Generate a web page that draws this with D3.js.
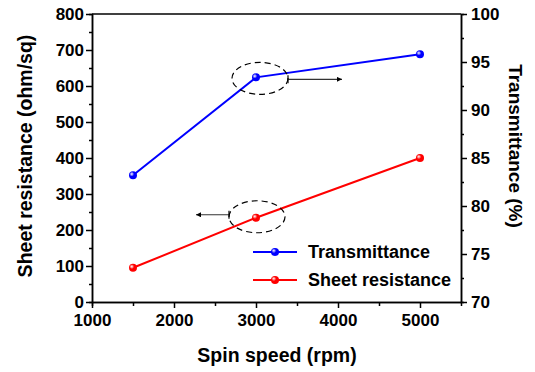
<!DOCTYPE html>
<html>
<head>
<meta charset="utf-8">
<script src="https://cdn.jsdelivr.net/npm/d3@7"></script>
<style>
  body { margin: 0; background: #fff; }
  text { font-family: "Liberation Sans", Arial, sans-serif; font-weight: bold; fill: #000; }
</style>
</head>
<body>
<div id="vis"></div>
<script>
const width = 535;
const height = 372;

// data
const speed = [1500, 3000, 5000];
const transmittance = [83.2, 93.4, 95.8];
const sheetRes = [95, 234, 400];
const xTicks = [1000, 2000, 3000, 4000, 5000];
const leftTicks = [0, 100, 200, 300, 400, 500, 600, 700, 800];
const rightTicks = [70, 75, 80, 85, 90, 95, 100];

const m = { left: 92, right: 461, top: 14, bottom: 302 };

const svg = d3.select("#vis").append("svg")
  .attr("width", width)
  .attr("height", height);

const x = d3.scaleLinear().domain([1000, 5500]).range([m.left, m.right]);
const yL = d3.scaleLinear().domain([0, 800]).range([m.bottom, m.top]);
const yR = d3.scaleLinear().domain([70, 100]).range([m.bottom, m.top]);

// sphere-like markers
const defs = svg.append("defs");
function ball(id, c) {
  const g = defs.append("radialGradient").attr("id", id)
    .attr("cx", "35%").attr("cy", "35%").attr("r", "65%");
  g.append("stop").attr("offset", "0%").attr("stop-color", "#fff").attr("stop-opacity", 0.8);
  g.append("stop").attr("offset", "45%").attr("stop-color", c);
  g.append("stop").attr("offset", "100%").attr("stop-color", c);
}
ball("ballBlue", "#0000ff");
ball("ballRed", "#ff0000");

defs.append("marker")
  .attr("id", "arrowHead")
  .attr("viewBox", "0 0 10 10")
  .attr("refX", 10).attr("refY", 5)
  .attr("markerWidth", 10).attr("markerHeight", 5)
  .attr("markerUnits", "userSpaceOnUse")
  .attr("orient", "auto")
  .append("path")
  .attr("d", "M0,0 L10,5 L0,10 Z")
  .attr("fill", "#000");

// axes
function styleAxis(g) {
  g.select(".domain").attr("stroke", "#000").attr("stroke-width", 1.5);
  g.selectAll(".tick line").attr("stroke", "#000").attr("stroke-width", 1.5);
  g.selectAll("text").style("font-size", "17px").attr("fill", "#000");
}

// minor ticks
svg.append("g")
  .attr("transform", `translate(0,${m.bottom})`)
  .call(d3.axisBottom(x).tickValues(d3.range(1500, 5500, 1000)).tickSize(4).tickFormat(""))
  .call(styleAxis);
svg.append("g")
  .attr("transform", `translate(${m.left},0)`)
  .call(d3.axisLeft(yL).tickValues(d3.range(50, 800, 100)).tickSize(3).tickFormat(""))
  .call(styleAxis);
svg.append("g")
  .attr("transform", `translate(${m.right},0)`)
  .call(d3.axisRight(yR).tickValues(d3.range(72.5, 100, 5)).tickSize(3).tickFormat(""))
  .call(styleAxis);

// major ticks
svg.append("g")
  .attr("transform", `translate(0,${m.bottom})`)
  .call(d3.axisBottom(x).tickValues(xTicks).tickFormat(d3.format("d"))
    .tickSize(6).tickPadding(6).tickSizeOuter(0))
  .call(styleAxis);
svg.append("g")
  .attr("transform", `translate(${m.left},0)`)
  .call(d3.axisLeft(yL).tickValues(leftTicks).tickSize(6).tickPadding(2).tickSizeOuter(0))
  .call(styleAxis);
svg.append("g")
  .attr("transform", `translate(${m.right},0)`)
  .call(d3.axisRight(yR).tickValues(rightTicks).tickSize(6).tickPadding(4).tickSizeOuter(0))
  .call(styleAxis);

// top frame
svg.append("line")
  .attr("x1", m.left).attr("x2", m.right)
  .attr("y1", m.top).attr("y2", m.top)
  .attr("stroke", "#000").attr("stroke-width", 1.5);

// axis titles
svg.append("text")
  .attr("transform", `translate(25,156) rotate(-90)`)
  .attr("text-anchor", "middle")
  .attr("dominant-baseline", "central")
  .style("font-size", "19.5px")
  .text("Sheet resistance (ohm/sq)");

svg.append("text")
  .attr("transform", `translate(515,146) rotate(90)`)
  .attr("text-anchor", "middle")
  .attr("dominant-baseline", "central")
  .style("font-size", "19px")
  .text("Transmittance (%)");

svg.append("text")
  .attr("x", 277).attr("y", 362)
  .attr("text-anchor", "middle")
  .style("font-size", "19.5px")
  .text("Spin speed (rpm)");

// lines
const tData = speed.map((s, i) => [s, transmittance[i]]);
const rData = speed.map((s, i) => [s, sheetRes[i]]);

svg.append("path")
  .datum(tData)
  .attr("fill", "none").attr("stroke", "#0000ff").attr("stroke-width", 2)
  .attr("d", d3.line().x(d => x(d[0])).y(d => yR(d[1])));
svg.append("path")
  .datum(rData)
  .attr("fill", "none").attr("stroke", "#ff0000").attr("stroke-width", 2)
  .attr("d", d3.line().x(d => x(d[0])).y(d => yL(d[1])));

svg.selectAll(".tpt").data(tData).enter().append("circle")
  .attr("cx", d => x(d[0])).attr("cy", d => yR(d[1])).attr("r", 4)
  .attr("fill", "url(#ballBlue)");
svg.selectAll(".rpt").data(rData).enter().append("circle")
  .attr("cx", d => x(d[0])).attr("cy", d => yL(d[1])).attr("r", 4)
  .attr("fill", "url(#ballRed)");

// annotations: dashed ellipses + arrows
const bx = x(speed[1]), by = yR(transmittance[1]);
svg.append("ellipse")
  .attr("cx", bx + 4).attr("cy", by + 1).attr("rx", 28).attr("ry", 16)
  .attr("fill", "none").attr("stroke", "#000").attr("stroke-width", 1.2)
  .attr("stroke-dasharray", "6,4");
svg.append("line")
  .attr("x1", bx + 32).attr("x2", bx + 86).attr("y1", by + 2).attr("y2", by + 2)
  .attr("stroke", "#333").attr("stroke-width", 1.2)
  .attr("marker-end", "url(#arrowHead)");
svg.append("line")
  .attr("x1", bx + 32).attr("x2", bx + 32).attr("y1", by - 2).attr("y2", by + 6)
  .attr("stroke", "#000").attr("stroke-width", 1.2);

const rx0 = x(speed[1]), ry0 = yL(sheetRes[1]);
svg.append("ellipse")
  .attr("cx", rx0 + 1).attr("cy", ry0 - 1).attr("rx", 28).attr("ry", 16)
  .attr("fill", "none").attr("stroke", "#000").attr("stroke-width", 1.2)
  .attr("stroke-dasharray", "6,4");
svg.append("line")
  .attr("x1", rx0 - 27).attr("x2", rx0 - 60).attr("y1", ry0 - 3).attr("y2", ry0 - 3)
  .attr("stroke", "#333").attr("stroke-width", 1.2)
  .attr("marker-end", "url(#arrowHead)");
svg.append("line")
  .attr("x1", rx0 - 27).attr("x2", rx0 - 27).attr("y1", ry0 - 7).attr("y2", ry0 + 1)
  .attr("stroke", "#000").attr("stroke-width", 1.2);

// legend
const legend = [
  { name: "Transmittance", color: "#0000ff", fill: "url(#ballBlue)", y: 252 },
  { name: "Sheet resistance", color: "#ff0000", fill: "url(#ballRed)", y: 280 }
];
const lg = svg.append("g").selectAll("g").data(legend).enter().append("g");
lg.append("line")
  .attr("x1", 253).attr("x2", 297)
  .attr("y1", d => d.y).attr("y2", d => d.y)
  .attr("stroke", d => d.color).attr("stroke-width", 2);
lg.append("circle")
  .attr("cx", 275).attr("cy", d => d.y).attr("r", 4)
  .attr("fill", d => d.fill);
lg.append("text")
  .attr("x", 308).attr("y", d => d.y)
  .attr("dominant-baseline", "central")
  .style("font-size", "18px")
  .text(d => d.name);
</script>
</body>
</html>
